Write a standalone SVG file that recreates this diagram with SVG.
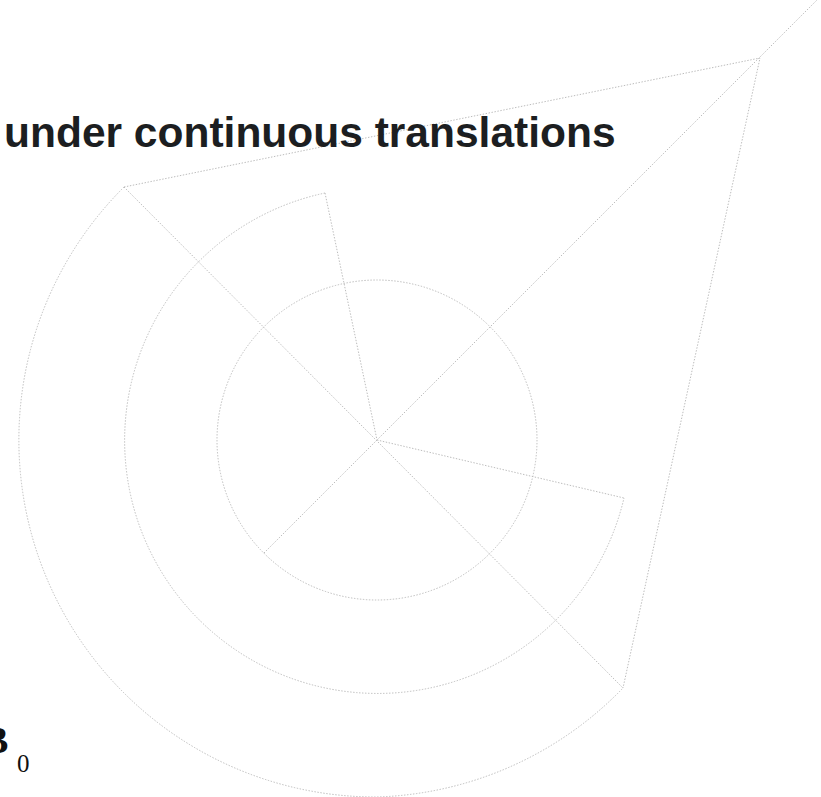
<svg xmlns="http://www.w3.org/2000/svg" width="821" height="797" viewBox="0 0 821 797">
  <style>
    .guide { fill: none; stroke: #bcbcbc; stroke-width: 1; stroke-dasharray: 1.4 1.6; }
    .title { font-family: "Liberation Sans", Arial, sans-serif; font-weight: bold; font-size: 42.5px; fill: #1c1e21; }
    .sym { font-family: "Liberation Serif", "Times New Roman", serif; fill: #111; }
  </style>
  <rect width="821" height="797" fill="#ffffff"/>

  <!-- construction geometry centred at (377,440) -->
  <g id="connectors">
    <!-- inner circle -->
    <circle class="guide" cx="377" cy="440" r="160"/>
    <!-- middle arc, open towards the upper right -->
    <path class="guide" d="M325,193 A253,253 0 1 0 624,498"/>
    <!-- outer half circle, via the bottom point -->
    <path class="guide" d="M124,187 A357,357 0 0 0 377,797 A357,357 0 0 0 623,688"/>
    <!-- cone edges -->
    <path class="guide" d="M124,187 L760,58 L623,688"/>
    <!-- diagonals through the centre -->
    <line class="guide" x1="124" y1="187" x2="623" y2="688"/>
    <line class="guide" x1="264" y1="553" x2="818" y2="-1"/>
    <!-- wedge radii -->
    <line class="guide" x1="325" y1="193" x2="377" y2="440"/>
    <line class="guide" x1="377" y1="440" x2="624" y2="498"/>
  </g>

  <g id="title">
    <text class="title" x="4" y="147">under continuous translations</text>
  </g>

  <g id="label-b0">
    <text class="sym" x="-17" y="753" font-size="38" font-weight="bold">B</text>
    <text class="sym" x="17" y="772" font-size="25">0</text>
  </g>
</svg>
